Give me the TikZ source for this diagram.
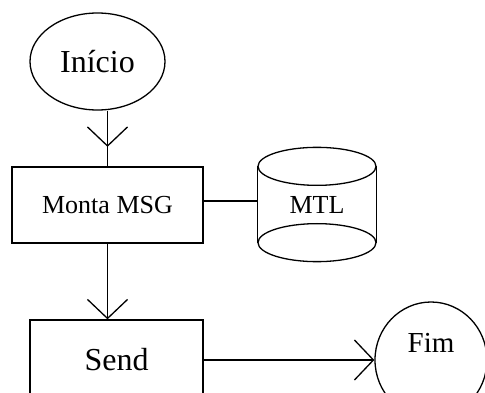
\documentclass[tikz,border=0pt]{standalone}
\usepackage{fontspec}
\setmainfont{Liberation Serif}
\usetikzlibrary{arrows.meta, shapes.geometric, decorations.markings}

\begin{document}
\begin{tikzpicture}[x=1pt, y=-1pt, line width=1.3pt,
    term/.style={draw, ellipse, inner sep=0pt},
    proc/.style={draw, rectangle, inner sep=0pt},
    big/.style={font=\fontsize{32}{38}\selectfont},
    mid/.style={font=\fontsize{26}{31}\selectfont},
    vtip/.style={-{Straight Barb[length=19pt, width=40pt]}},
    midtip/.style={postaction={decorate}, decoration={markings,
        mark=at position #1 with {\arrow{Straight Barb[length=19pt, width=40pt]}}}},]

\useasboundingbox (0,0) rectangle (485,393);
\clip (0,0) rectangle (485,393);

% Start and message assembly
\node[term, big, minimum width=135, minimum height=97] (inicio) at (97.5,61.5) {Início};
\node[proc, mid, minimum width=191, minimum height=76] (monta) at (107.5,205) {Monta MSG};

% Storage cylinder (full ellipse at both ends)
\node[mid, minimum width=118, minimum height=75] (mtl) at (317,204.5) {MTL};
\draw (mtl.north west) -- (mtl.south west);
\draw (mtl.north east) -- (mtl.south east);
\draw (mtl.north) ellipse [x radius=59, y radius=19];
\draw (mtl.south) ellipse [x radius=59, y radius=19];

% Send and end
\node[proc, big, minimum width=173, minimum height=80] (send) at (116.5,360) {Send};
\node[term, minimum width=112, minimum height=116] (fim) at (431,360) {};
\node[font=\fontsize{29}{35}\selectfont] (fimtxt) at ([yshift=17pt]fim.center) {Fim};

% Flow lines
\draw[midtip=0.65] (monta.north |- inicio.south) -- (monta.north);
\draw ([yshift=4pt]monta.east) -- ([yshift=4pt]monta.east -| mtl.west);
\draw[vtip] (monta.south) -- (monta.south |- send.north);
\draw[vtip] (send.east) -- (fim.west);

\end{tikzpicture}
\end{document}
